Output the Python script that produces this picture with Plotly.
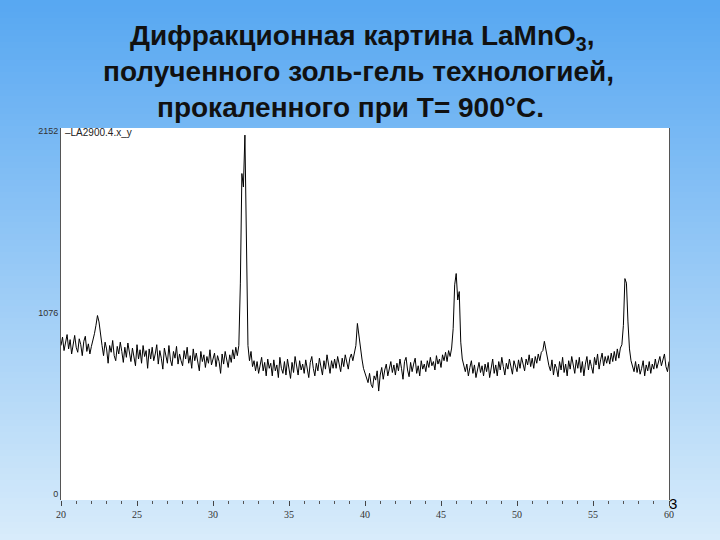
import numpy as np
import plotly.graph_objects as go

# ---------------- data ----------------
x_start = 20.0
x_step = 0.1
intensity = [
    880, 930, 850, 905, 945, 860, 915, 830, 895, 940, 870, 840, 920, 885, 820, 905, 935, 845, 890, 830,
    875, 910, 950, 1000, 1058, 1020, 935, 880, 820, 900, 860, 775, 880, 840, 910, 820, 790, 875, 830, 900,
    845, 780, 870, 810, 895, 830, 785, 865, 820, 760, 885, 800, 855, 775, 880, 815, 850, 745, 860, 800,
    870, 790, 830, 885, 770, 850, 805, 740, 865, 815, 775, 880, 795, 760, 845, 805, 875, 770, 830, 790,
    760, 850, 800, 870, 775, 820, 745, 860, 790, 835, 770, 730, 845, 785, 825, 750, 815, 775, 855, 765,
    800, 835, 755, 820, 785, 715, 830, 770, 845, 790, 750, 825, 780, 855, 800, 870, 820, 880, 1250, 1900,
    1820, 2128, 1500, 880, 790, 845, 755, 790, 730, 785, 715, 770, 810, 730, 780, 700, 800, 745, 775, 700,
    795, 730, 765, 690, 810, 745, 715, 785, 705, 800, 740, 685, 780, 720, 815, 750, 705, 790, 735, 770,
    715, 795, 735, 690, 780, 815, 745, 700, 775, 730, 805, 755, 705, 790, 740, 825, 760, 715, 790, 745,
    800, 745, 815, 765, 725, 805, 755, 825, 780, 740, 805, 830, 790, 840, 880, 1011, 935, 860, 800, 745,
    720, 690, 660, 715, 650, 630, 700, 675, 730, 610, 705, 750, 680, 735, 770, 700, 755, 785, 720, 765,
    705, 775, 730, 800, 745, 680, 785, 810, 735, 695, 780, 725, 770, 805, 715, 760, 700, 790, 740, 770,
    725, 790, 750, 810, 760, 785, 735, 820, 770, 800, 750, 825, 790, 840, 785, 850, 815, 865, 980, 1240,
    1307, 1150, 1200, 900, 800, 770, 725, 770, 700, 750, 790, 715, 765, 690, 745, 780, 720, 760, 700, 770,
    725, 780, 690, 750, 800, 715, 765, 700, 785, 735, 810, 755, 705, 775, 740, 800, 750, 710, 790, 755,
    725, 795, 745, 810, 760, 730, 800, 765, 825, 755, 805, 745, 815, 775, 830, 790, 840, 850, 905, 850,
    800, 760, 730, 795, 705, 770, 745, 695, 785, 735, 810, 720, 770, 700, 790, 740, 815, 760, 715, 795,
    745, 810, 720, 785, 700, 770, 815, 735, 795, 755, 715, 810, 765, 830, 740, 795, 835, 760, 815, 775,
    820, 770, 835, 785, 845, 790, 860, 805, 865, 885, 1000, 1277, 1250, 1020, 860, 790, 760, 725, 785, 720,
    770, 710, 745, 790, 700, 765, 730, 785, 715, 770, 740, 800, 745, 780, 815, 760, 805, 830, 755, 725, 785,
]
two_theta = np.round(x_start + x_step * np.arange(len(intensity)), 2)

x_major_ticks = [20, 25, 30, 35, 40, 45, 50, 55, 60]
y_tick_vals = [0, 1076, 2152]
y_tick_text = ["0", "1076", "2152"]

title_lines = [
    "Дифракционная картина LaMnO<sub>3</sub>,",
    "полученного золь-гель технологией,",
    "прокаленного при T= 900°C.",
]
legend_name = "LA2900.4.x_y"
slide_number = "3"

# ---------------- figure ----------------
W, H = 720, 540
ml, mr, mt, mb = 61, 51, 128, 40
pw, ph = W - ml - mr, H - mt - mb

def px_to_paper_y(py):
    return (H - mb - py) / ph

def px_to_paper_x(px):
    return (px - ml) / pw

fig = go.Figure()
fig.add_trace(go.Scatter(
    x=two_theta, y=intensity, mode="lines",
    line=dict(color="#000000", width=1),
    name=legend_name, showlegend=False, hoverinfo="skip",
))

# background gradient strips (slide background)
shapes = []
top_c = np.array([88, 168, 242])
bot_c = np.array([216, 236, 251])
n_strips = 90
for i in range(n_strips):
    t = i / (n_strips - 1)
    c = (top_c * (1 - t) + bot_c * t).astype(int)
    py0 = H * i / n_strips
    py1 = H * (i + 1) / n_strips + 1
    shapes.append(dict(
        type="rect", xref="paper", yref="paper",
        x0=px_to_paper_x(-2), x1=px_to_paper_x(W + 2),
        y0=px_to_paper_y(py1), y1=px_to_paper_y(py0),
        fillcolor=f"rgb({c[0]},{c[1]},{c[2]})", line=dict(width=0), layer="below",
    ))
# white plot area
shapes.append(dict(type="rect", xref="paper", yref="paper", x0=0, x1=1, y0=0, y1=1,
                   fillcolor="white", line=dict(width=0), layer="below"))

annotations = []
title_pos_px = [(362, 37), (358, 72), (350, 107)]
for txt, (xpx, ypx) in zip(title_lines, title_pos_px):
    annotations.append(dict(
        text=f"<b>{txt}</b>", xref="paper", yref="paper",
        x=px_to_paper_x(xpx), y=px_to_paper_y(ypx),
        xanchor="center", yanchor="middle", showarrow=False,
        font=dict(family="Liberation Sans, Arial", size=28, color="#111111"),
    ))
annotations.append(dict(
    text="–" + legend_name, xref="paper", yref="paper",
    x=px_to_paper_x(63), y=px_to_paper_y(132),
    xanchor="left", yanchor="middle", showarrow=False,
    font=dict(family="Liberation Sans, Arial", size=10, color="#222222"),
))
annotations.append(dict(
    text=slide_number, xref="paper", yref="paper",
    x=px_to_paper_x(673), y=px_to_paper_y(503),
    xanchor="center", yanchor="middle", showarrow=False,
    font=dict(family="Liberation Sans, Arial", size=15, color="#000000"),
))

fig.update_layout(
    width=W, height=H,
    margin=dict(l=ml, r=mr, t=mt, b=mb, pad=0),
    paper_bgcolor="rgb(150,200,246)",
    plot_bgcolor="rgba(0,0,0,0)",
    shapes=shapes,
    annotations=annotations,
    showlegend=False,
)
fig.update_xaxes(
    range=[20, 60], tickmode="array", tickvals=x_major_ticks,
    ticks="outside", ticklen=5, tickcolor="#444444", tickwidth=1,
    minor=dict(dtick=1, ticks="outside", ticklen=3, tickcolor="#555555"),
    showgrid=False, zeroline=False, showline=False,
    tickfont=dict(family="Liberation Serif, Times New Roman", size=10, color="#333333"),
)
fig.update_yaxes(
    range=[-36, 2170], tickmode="array", tickvals=y_tick_vals, ticktext=y_tick_text,
    ticks="", showgrid=False, zeroline=False,
    showline=True, linecolor="#555555", linewidth=1, mirror=True,
    tickfont=dict(family="Liberation Sans, Arial", size=9, color="#333333"),
)

fig.write_html("out.html", config={"displayModeBar": False},
               post_script="document.body.style.margin='0';document.body.style.overflow='hidden';")
